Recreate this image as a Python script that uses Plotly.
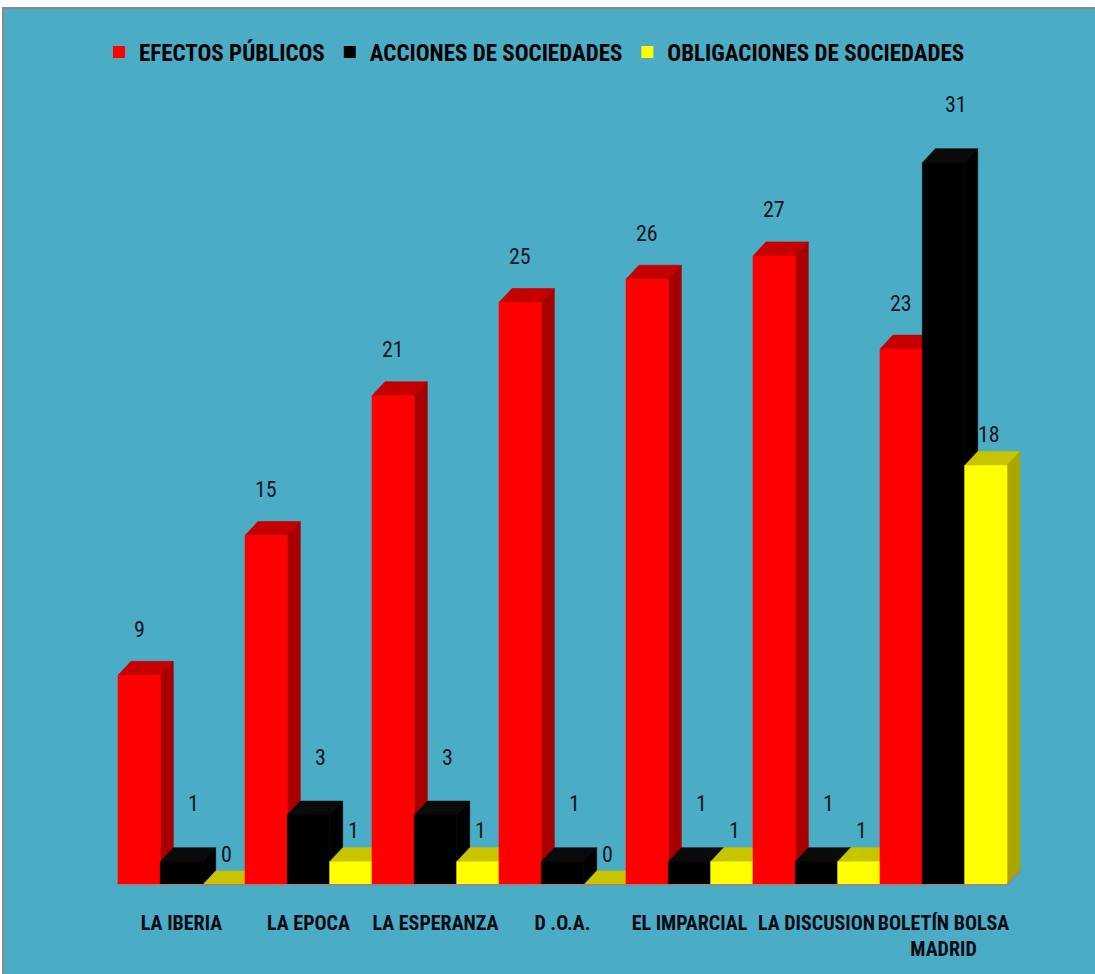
import plotly.graph_objects as go

# ---------------- data ----------------
categories = ["LA IBERIA", "LA EPOCA", "LA ESPERANZA", "D .O.A.", "EL IMPARCIAL",
              "LA DISCUSION", "BOLETÍN BOLSA<br>MADRID"]
series_names = ["EFECTOS PÚBLICOS", "ACCIONES DE SOCIEDADES", "OBLIGACIONES DE SOCIEDADES"]
efectos_publicos = [9, 15, 21, 25, 26, 27, 23]
acciones_sociedades = [1, 3, 3, 1, 1, 1, 31]
obligaciones_sociedades = [0, 1, 1, 0, 1, 1, 18]
values = [efectos_publicos, acciones_sociedades, obligaciones_sociedades]

# ---------------- style ----------------
front_colors = ["#FF0000", "#000000", "#FFFF00"]
top_colors = ["#C40000", "#0A0A0A", "#C8C400"]
side_colors = ["#A80000", "#000000", "#A9A600"]
label_xshift = [0, 12, 3]
label_yshift = [46, 58, 31]
BG = "#4BACC6"
FONT_NARROW = "Liberation Sans Narrow, Arial Narrow, Roboto Condensed, sans-serif"

W, H = 1095, 974
L, R, T, B = 61, 35, 75, 82
PW, PH = W - L - R, H - T - B
GROUP_PX = 127.0          # pixels per category
UNIT_PX = 23.3            # pixels per value unit
X_MIN = (L - 181.5) / GROUP_PX
X_MAX = X_MIN + PW / GROUP_PX
Y_MIN = -0.3
Y_MAX = Y_MIN + PH / UNIT_PX
DEPTH_X = 13 / GROUP_PX   # 3-D depth offset in data units
DEPTH_Y = 14 / UNIT_PX
BAR_W = 1 / 3
offsets = [-1 / 3, 0, 1 / 3]

fig = go.Figure()


def poly(xs, ys, color):
    fig.add_trace(go.Scatter(
        x=xs + [xs[0]], y=ys + [ys[0]], mode="lines", fill="toself",
        fillcolor=color, line=dict(color=color, width=0.6),
        hoverinfo="skip", showlegend=False))


for i in range(len(categories)):
    for s in range(3):
        v = values[s][i]
        x0 = i + offsets[s] - BAR_W / 2
        x1 = x0 + BAR_W
        # top face
        poly([x0, x1, x1 + DEPTH_X, x0 + DEPTH_X], [v, v, v + DEPTH_Y, v + DEPTH_Y], top_colors[s])
        # side face
        poly([x1, x1 + DEPTH_X, x1 + DEPTH_X, x1], [0, DEPTH_Y, v + DEPTH_Y, v], side_colors[s])
        # front face
        if v > 0:
            poly([x0, x1, x1, x0], [0, 0, v, v], front_colors[s])

# floor line
n = len(categories)
fig.add_trace(go.Scatter(
    x=[-0.5, n - 0.5, n - 0.5 + DEPTH_X], y=[0, 0, DEPTH_Y], mode="lines",
    line=dict(color="#8C8C8C", width=2), hoverinfo="skip", showlegend=False))

# legend entries
for s in range(3):
    fig.add_trace(go.Bar(x=[None], y=[None], name=series_names[s],
                         marker=dict(color=front_colors[s], line=dict(width=0))))

# value labels
for s in range(3):
    for i in range(n):
        v = values[s][i]
        fig.add_annotation(
            x=i + offsets[s], y=v + DEPTH_Y / 2, text=str(v), showarrow=False,
            xshift=label_xshift[s], yshift=label_yshift[s] - 7,
            font=dict(family=FONT_NARROW, size=22, color="#15151F"))


def px_x(px):
    return (px - L) / PW


def px_y(py):
    return (H - B - py) / PH


fig.add_shape(type="rect", xref="paper", yref="paper",
              x0=px_x(3), x1=px_x(W + 5), y0=px_y(H + 5), y1=px_y(8),
              fillcolor=BG, line=dict(color="#8A8A8A", width=2), layer="below")

fig.update_layout(
    width=W, height=H, autosize=False,
    margin=dict(l=L, r=R, t=T, b=B, autoexpand=False),
    paper_bgcolor="white", plot_bgcolor="rgba(0,0,0,0)",
    showlegend=True,
    legend=dict(orientation="h", x=px_x(99), xanchor="left", y=px_y(52), yanchor="middle",
                font=dict(family=FONT_NARROW, size=23, color="#000000", weight="bold"),
                bgcolor="rgba(0,0,0,0)", itemwidth=30, traceorder="normal"),
    xaxis=dict(range=[X_MIN, X_MAX], tickvals=list(range(n)), ticktext=categories,
               showgrid=False, zeroline=False, showline=False, automargin=False,
               tickangle=0,
               ticks="outside", ticklen=13, tickcolor="rgba(0,0,0,0)",
               tickfont=dict(family=FONT_NARROW, size=20, color="#0A0A14", weight="bold")),
    yaxis=dict(range=[Y_MIN, Y_MAX], visible=False, showgrid=False, zeroline=False,
               automargin=False),
)

fig.write_html("out.html", config={"displayModeBar": False},
               post_script="document.body.style.margin='0';")
